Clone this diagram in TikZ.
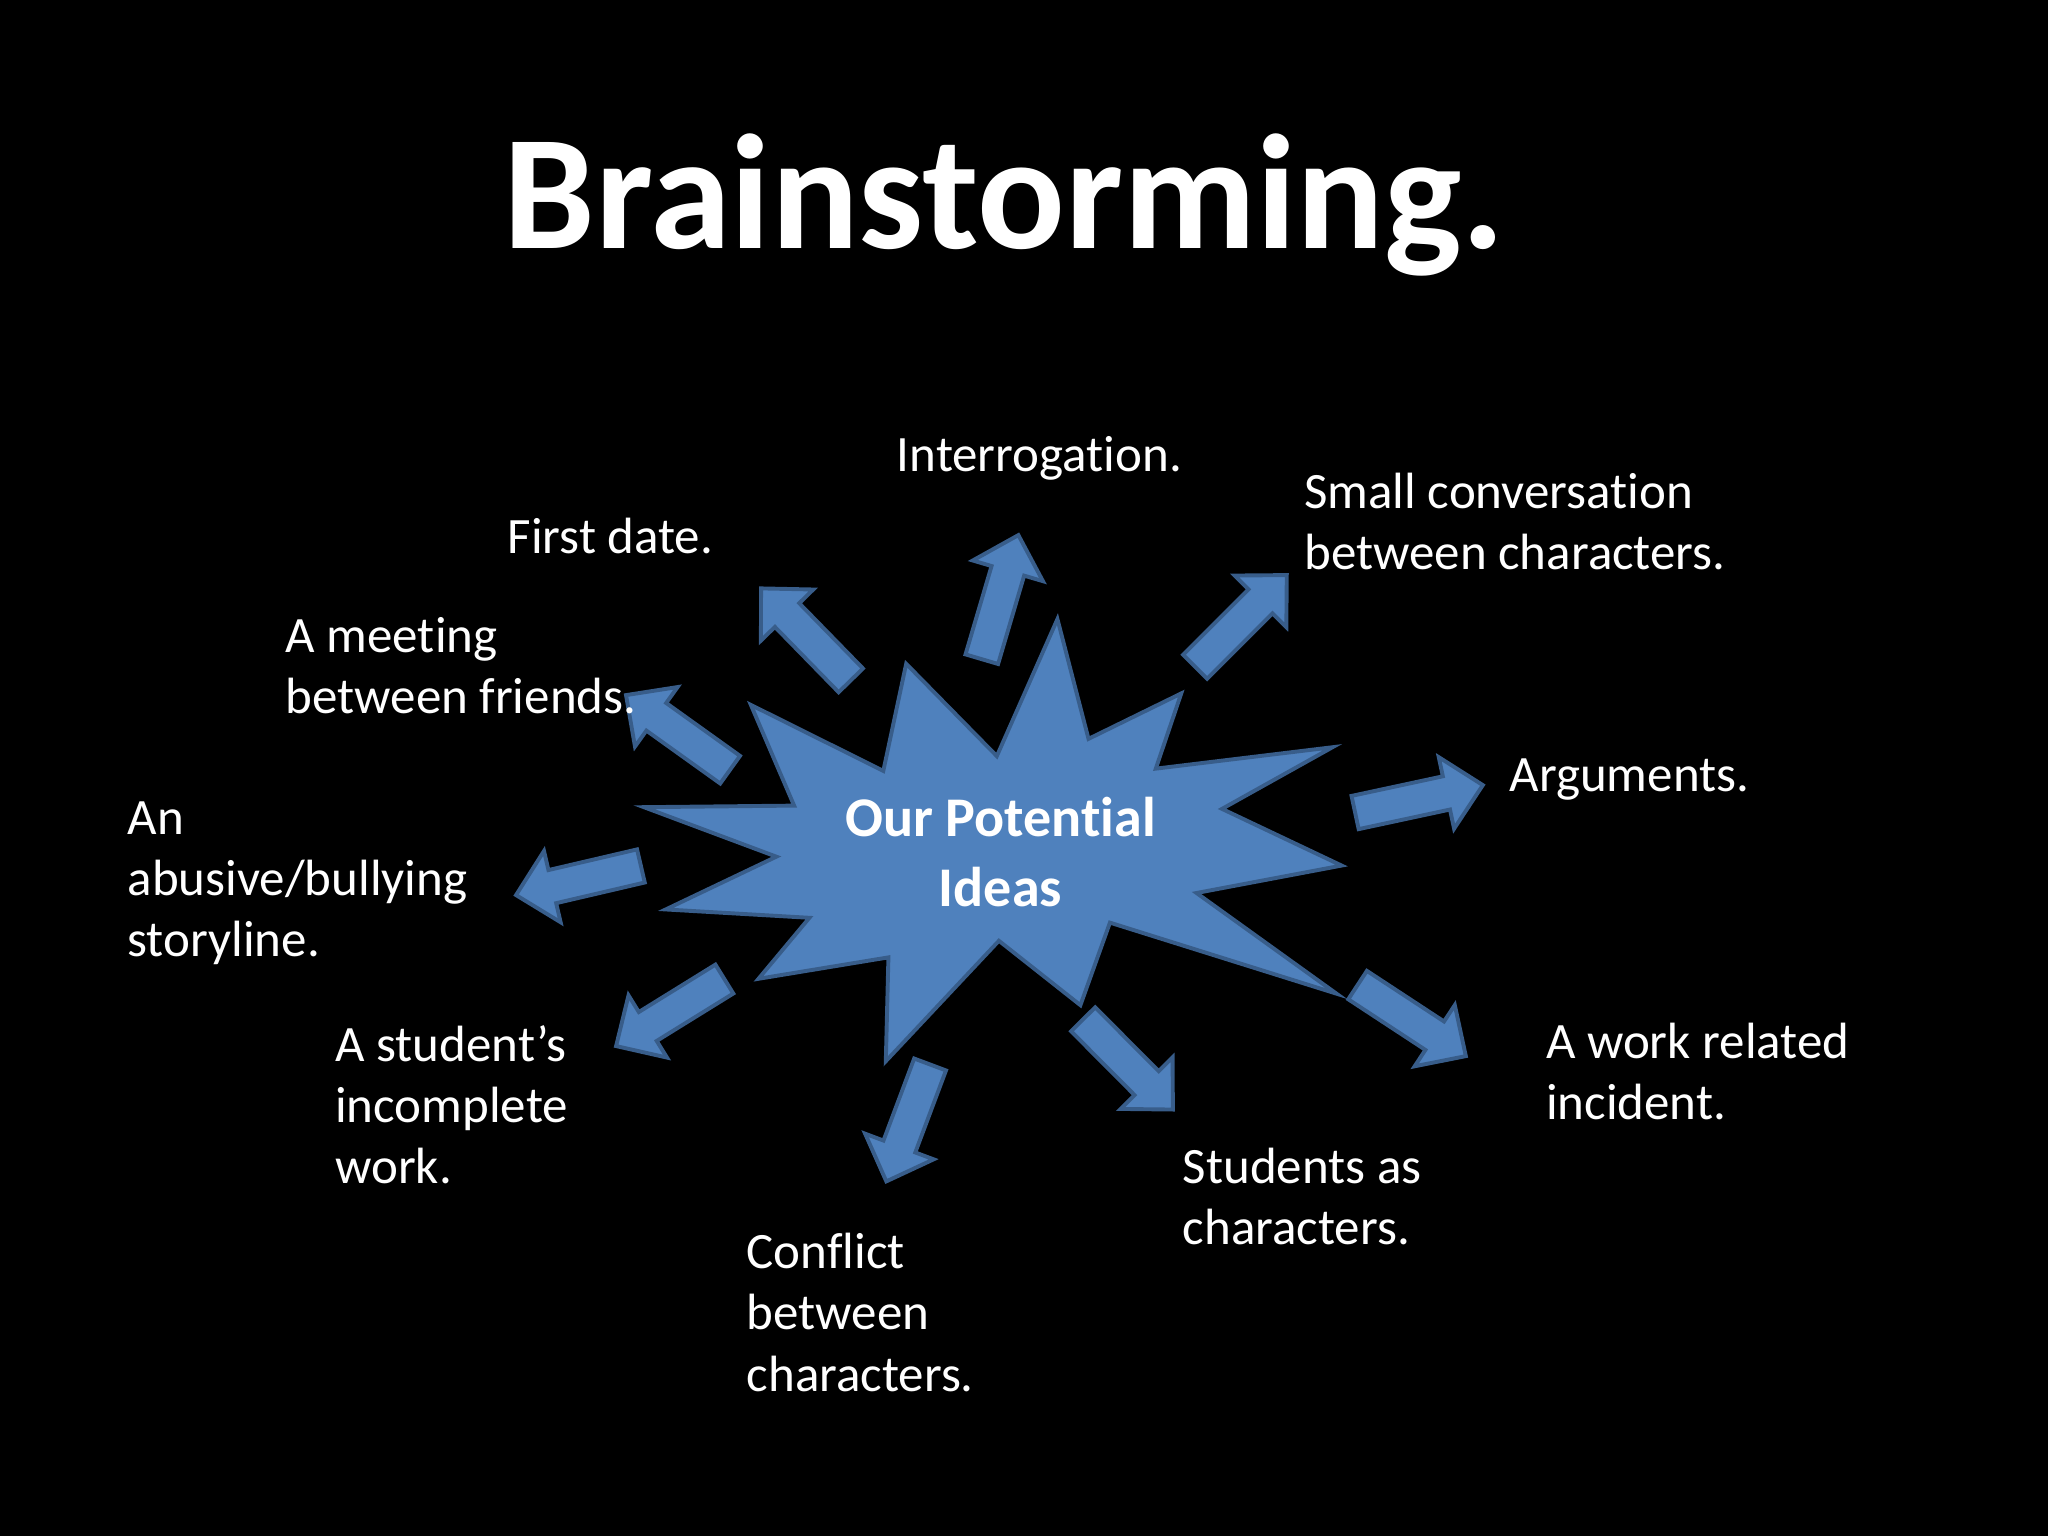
\documentclass[tikz,border=0pt]{standalone}
\usepackage{fontspec}
\setmainfont{Carlito}[Ligatures=NoCommon]
\usetikzlibrary{calc}
\definecolor{ideablue}{RGB}{79,129,189}
\definecolor{ideaedge}{RGB}{56,93,138}
\newcommand{\blockarrow}[2]{%
  \coordinate (#2-b) at ($(#2)!0.285cm!(#1)$);
  \draw[idea shape] ($(#1)!0.13cm!90:(#2)$) -- ($(#2-b)!0.13cm!90:(#2)$)
    -- ($(#2-b)!0.28cm!90:(#2)$) -- (#2) -- ($(#2-b)!0.28cm!-90:(#2)$)
    -- ($(#2-b)!0.13cm!-90:(#2)$) -- ($(#1)!0.13cm!-90:(#2)$) -- cycle;}
\begin{document}
\begin{tikzpicture}[x=0.01cm,y=-0.01cm,line join=miter,
  idea shape/.style={fill=ideablue,draw=ideaedge,line width=0.85pt},
  idea text/.style={text=white,inner sep=0pt,align=left,anchor=base west,
    font=\fontsize{11.1}{13.3}\selectfont}]
  \fill[black] (0,0) rectangle (1568,1176);
  \useasboundingbox (0,0) rectangle (1568,1176);
  \node[text=white,inner sep=0pt,anchor=base,font=\bfseries\fontsize{35.6}{43}\selectfont]
    (title) at (769,190) {Brainstorming.};
  \draw[idea shape] (809.6,474.0) -- (833.4,565.7) -- (904.4,530.9) -- (884.9,588.5)
    -- (1020.2,572.1) -- (935.6,619.3) -- (1027.2,662.7) -- (916.1,683.7)
    -- (1023.3,760.8) -- (849.8,706.4) -- (827.2,769.6) -- (764.8,720.3)
    -- (678.2,812.5) -- (680.2,733.0) -- (580.7,749.4) -- (619.7,702.7)
    -- (509.7,696.3) -- (594.4,655.9) -- (493.0,618.0) -- (608.0,616.8)
    -- (574.9,539.7) -- (676.3,590.2) -- (693.8,508.2) -- (763.2,578.9) -- cycle;
  \node[text=white,inner sep=0pt,align=center,anchor=base,
    font=\bfseries\fontsize{12.2}{15.2}\selectfont] (ideas) at (766,694.2)
    {Our Potential\\Ideas};
  \coordinate (date-t) at (651.4,520.9);     \coordinate (date-h) at (582.7,450.5);
  \coordinate (interrog-t) at (751.7,504.7); \coordinate (interrog-h) at (779.7,409.7);
  \coordinate (small-t) at (915.0,510.5);    \coordinate (small-h) at (985.2,440.3);
  \coordinate (meeting-t) at (559.0,589.3);  \coordinate (meeting-h) at (479.3,532.2);
  \coordinate (args-t) at (1037.5,622.1);    \coordinate (args-h) at (1135.3,601.1);
  \coordinate (abusive-t) at (490.7,663.0);  \coordinate (abusive-h) at (395.1,685.3);
  \coordinate (work-t) at (1039.4,754.2);    \coordinate (work-h) at (1122.3,808.6);
  \coordinate (student-t) at (554.6,749.6);  \coordinate (student-h) at (471.7,800.9);
  \coordinate (conflict-t) at (712.1,815.0); \coordinate (conflict-h) at (678.6,904.5);
  \coordinate (chars-t) at (829.3,780.4);    \coordinate (chars-h) at (898.0,849.5);
  \blockarrow{date-t}{date-h}
  \blockarrow{interrog-t}{interrog-h}
  \blockarrow{small-t}{small-h}
  \blockarrow{meeting-t}{meeting-h}
  \blockarrow{args-t}{args-h}
  \blockarrow{abusive-t}{abusive-h}
  \blockarrow{work-t}{work-h}
  \blockarrow{student-t}{student-h}
  \blockarrow{conflict-t}{conflict-h}
  \blockarrow{chars-t}{chars-h}
  \node[idea text] (interrog) at (686,361) {Interrogation.};
  \node[idea text] (date) at (388,424) {First date.};
  \node[idea text] (small) at (998,436) {Small conversation\\between characters.};
  \node[idea text] (meeting) at (218,546) {A meeting\\between friends.};
  \node[idea text] (args) at (1155,606) {Arguments.};
  \node[idea text] (abusive) at (97,732.5) {An\\abusive/bullying\\storyline.};
  \node[idea text] (work) at (1183,857) {A work related\\incident.};
  \node[idea text] (student) at (256,906) {A student’s\\incomplete\\work.};
  \node[idea text] (chars) at (905,953) {Students as\\characters.};
  \node[idea text] (conflict) at (571,1065) {Conflict\\between\\characters.};
\end{tikzpicture}
\end{document}
